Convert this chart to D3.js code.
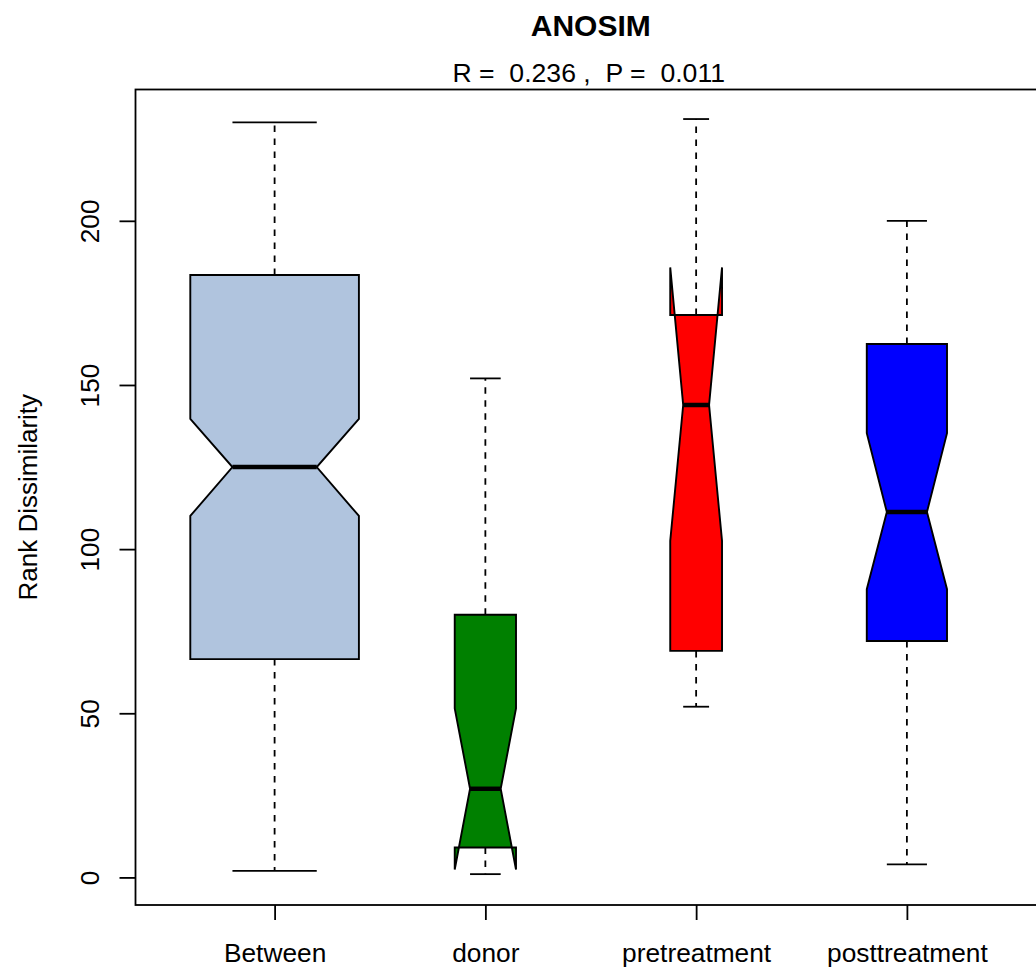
<!DOCTYPE html>
<html lang="en">
<head>
    <meta charset="UTF-8">
    <title>ANOSIM</title>
    <script src="https://d3js.org/d3.v7.min.js"></script>
    <style>
        body { margin: 0; background: #fff; }
        svg { display: block; font-family: "Liberation Sans", Arial, sans-serif; }
        .axis text { font-size: 26.3px; fill: #000; }
        .axis line { stroke: #000; stroke-width: 1.8px; }
    </style>
</head>
<body>
    <svg width="1036" height="974"></svg>
    <script>
        // values
        const groups = ["Between", "donor", "pretreatment", "posttreatment"];
        const nPairs = [159, 21, 15, 36];
        const whiskerLow = [2, 1, 52, 4];
        const q1 = [66.5, 9.1, 69, 72];
        const notchLow = [110.1, 2.4, 102.5, 87.8];
        const medians = [125, 27, 143.9, 111.3];
        const notchHigh = [139.7, 51.5, 185.8, 135.3];
        const q3 = [183.5, 80, 171.3, 162.5];
        const whiskerHigh = [230, 152, 231, 200];
        const yTicks = [0, 50, 100, 150, 200];

        const palette = ["#B0C4DE", "#008000", "#FF0000", "#0000FF"];

        const plot = { left: 135.5, right: 1046, top: 89.5, bottom: 905 };
        const svg = d3.select("svg");

        const x = d3.scalePoint()
            .domain(groups)
            .range([plot.left, plot.right])
            .padding(0.66);

        const y = d3.scaleLinear()
            .domain([-8.4, 240])
            .range([plot.bottom, plot.top]);

        const color = d3.scaleOrdinal().domain(groups).range(palette);

        // half box width, proportional to sqrt(n) like varwidth=TRUE
        const halfW = d3.scaleSqrt()
            .domain([0, d3.max(nPairs)])
            .range([0, 0.4 * x.step()]);

        const data = groups.map((g, i) => ({
            name: g, n: nPairs[i], lo: whiskerLow[i], q1: q1[i], nl: notchLow[i],
            med: medians[i], nu: notchHigh[i], q3: q3[i], hi: whiskerHigh[i]
        }));

        // titles
        svg.append("text")
            .attr("x", (plot.left + plot.right) / 2)
            .attr("y", 36)
            .attr("text-anchor", "middle")
            .style("font-size", "30px")
            .style("font-weight", "bold")
            .text("ANOSIM");

        svg.append("text")
            .attr("x", (plot.left + plot.right) / 2 - 2)
            .attr("y", 82)
            .attr("text-anchor", "middle")
            .style("font-size", "26.6px")
            .style("white-space", "pre")
            .attr("xml:space", "preserve")
            .text("R =  0.236 ,  P =  0.011");

        // y axis
        const yAxis = svg.append("g").attr("class", "axis")
            .attr("transform", `translate(${plot.left},0)`)
            .call(d3.axisLeft(y).tickValues(yTicks).tickSize(16).tickSizeOuter(0));
        yAxis.select(".domain").remove();
        yAxis.selectAll("text")
            .attr("transform", "rotate(-90)")
            .attr("x", 0)
            .attr("y", -36.5)
            .attr("dy", 0)
            .attr("text-anchor", "middle");

        // x axis
        const xAxis = svg.append("g").attr("class", "axis")
            .attr("transform", `translate(0,${plot.bottom})`)
            .call(d3.axisBottom(x).tickSize(15).tickSizeOuter(0));
        xAxis.select(".domain").remove();
        xAxis.selectAll("text")
            .attr("y", 57)
            .attr("dy", 0);

        svg.append("text")
            .attr("transform", `translate(37,${(plot.top + plot.bottom) / 2}) rotate(-90)`)
            .attr("text-anchor", "middle")
            .style("font-size", "26px")
            .text("Rank Dissimilarity");

        // boxes
        const boxes = svg.append("g")
            .selectAll("g")
            .data(data)
            .enter()
            .append("g")
            .attr("transform", d => `translate(${x(d.name)},0)`);

        // whiskers
        boxes.append("line")
            .attr("x1", 0).attr("x2", 0)
            .attr("y1", d => y(d.q3)).attr("y2", d => y(d.hi))
            .attr("stroke", "#000").attr("stroke-width", 1.8)
            .attr("stroke-dasharray", "6.5,6.5");
        boxes.append("line")
            .attr("x1", 0).attr("x2", 0)
            .attr("y1", d => y(d.q1)).attr("y2", d => y(d.lo))
            .attr("stroke", "#000").attr("stroke-width", 1.8)
            .attr("stroke-dasharray", "6.5,6.5");

        // staples
        ["hi", "lo"].forEach(k => {
            boxes.append("line")
                .attr("x1", d => -halfW(d.n) / 2).attr("x2", d => halfW(d.n) / 2)
                .attr("y1", d => y(d[k])).attr("y2", d => y(d[k]))
                .attr("stroke", "#000").attr("stroke-width", 1.8);
        });

        // notched box polygon, same point order as R's bxp
        const outline = d3.line().x(p => p[0]).y(p => p[1]);
        boxes.append("path")
            .attr("d", d => {
                const w = halfW(d.n);
                const pts = [
                    [-w, y(d.q1)], [w, y(d.q1)], [w, y(d.nl)], [w / 2, y(d.med)], [w, y(d.nu)],
                    [w, y(d.q3)], [-w, y(d.q3)], [-w, y(d.nu)], [-w / 2, y(d.med)], [-w, y(d.nl)]
                ];
                return outline(pts) + "Z";
            })
            .attr("fill", d => color(d.name))
            .attr("stroke", "#000")
            .attr("stroke-width", 1.9)
            .attr("stroke-linejoin", "miter");

        // medians
        boxes.append("line")
            .attr("x1", d => -halfW(d.n) / 2).attr("x2", d => halfW(d.n) / 2)
            .attr("y1", d => y(d.med)).attr("y2", d => y(d.med))
            .attr("stroke", "#000").attr("stroke-width", 4.5);

        // frame
        svg.append("rect")
            .attr("x", plot.left).attr("y", plot.top)
            .attr("width", plot.right - plot.left)
            .attr("height", plot.bottom - plot.top)
            .attr("fill", "none")
            .attr("stroke", "#000")
            .attr("stroke-width", 1.8);
    </script>
</body>
</html>
